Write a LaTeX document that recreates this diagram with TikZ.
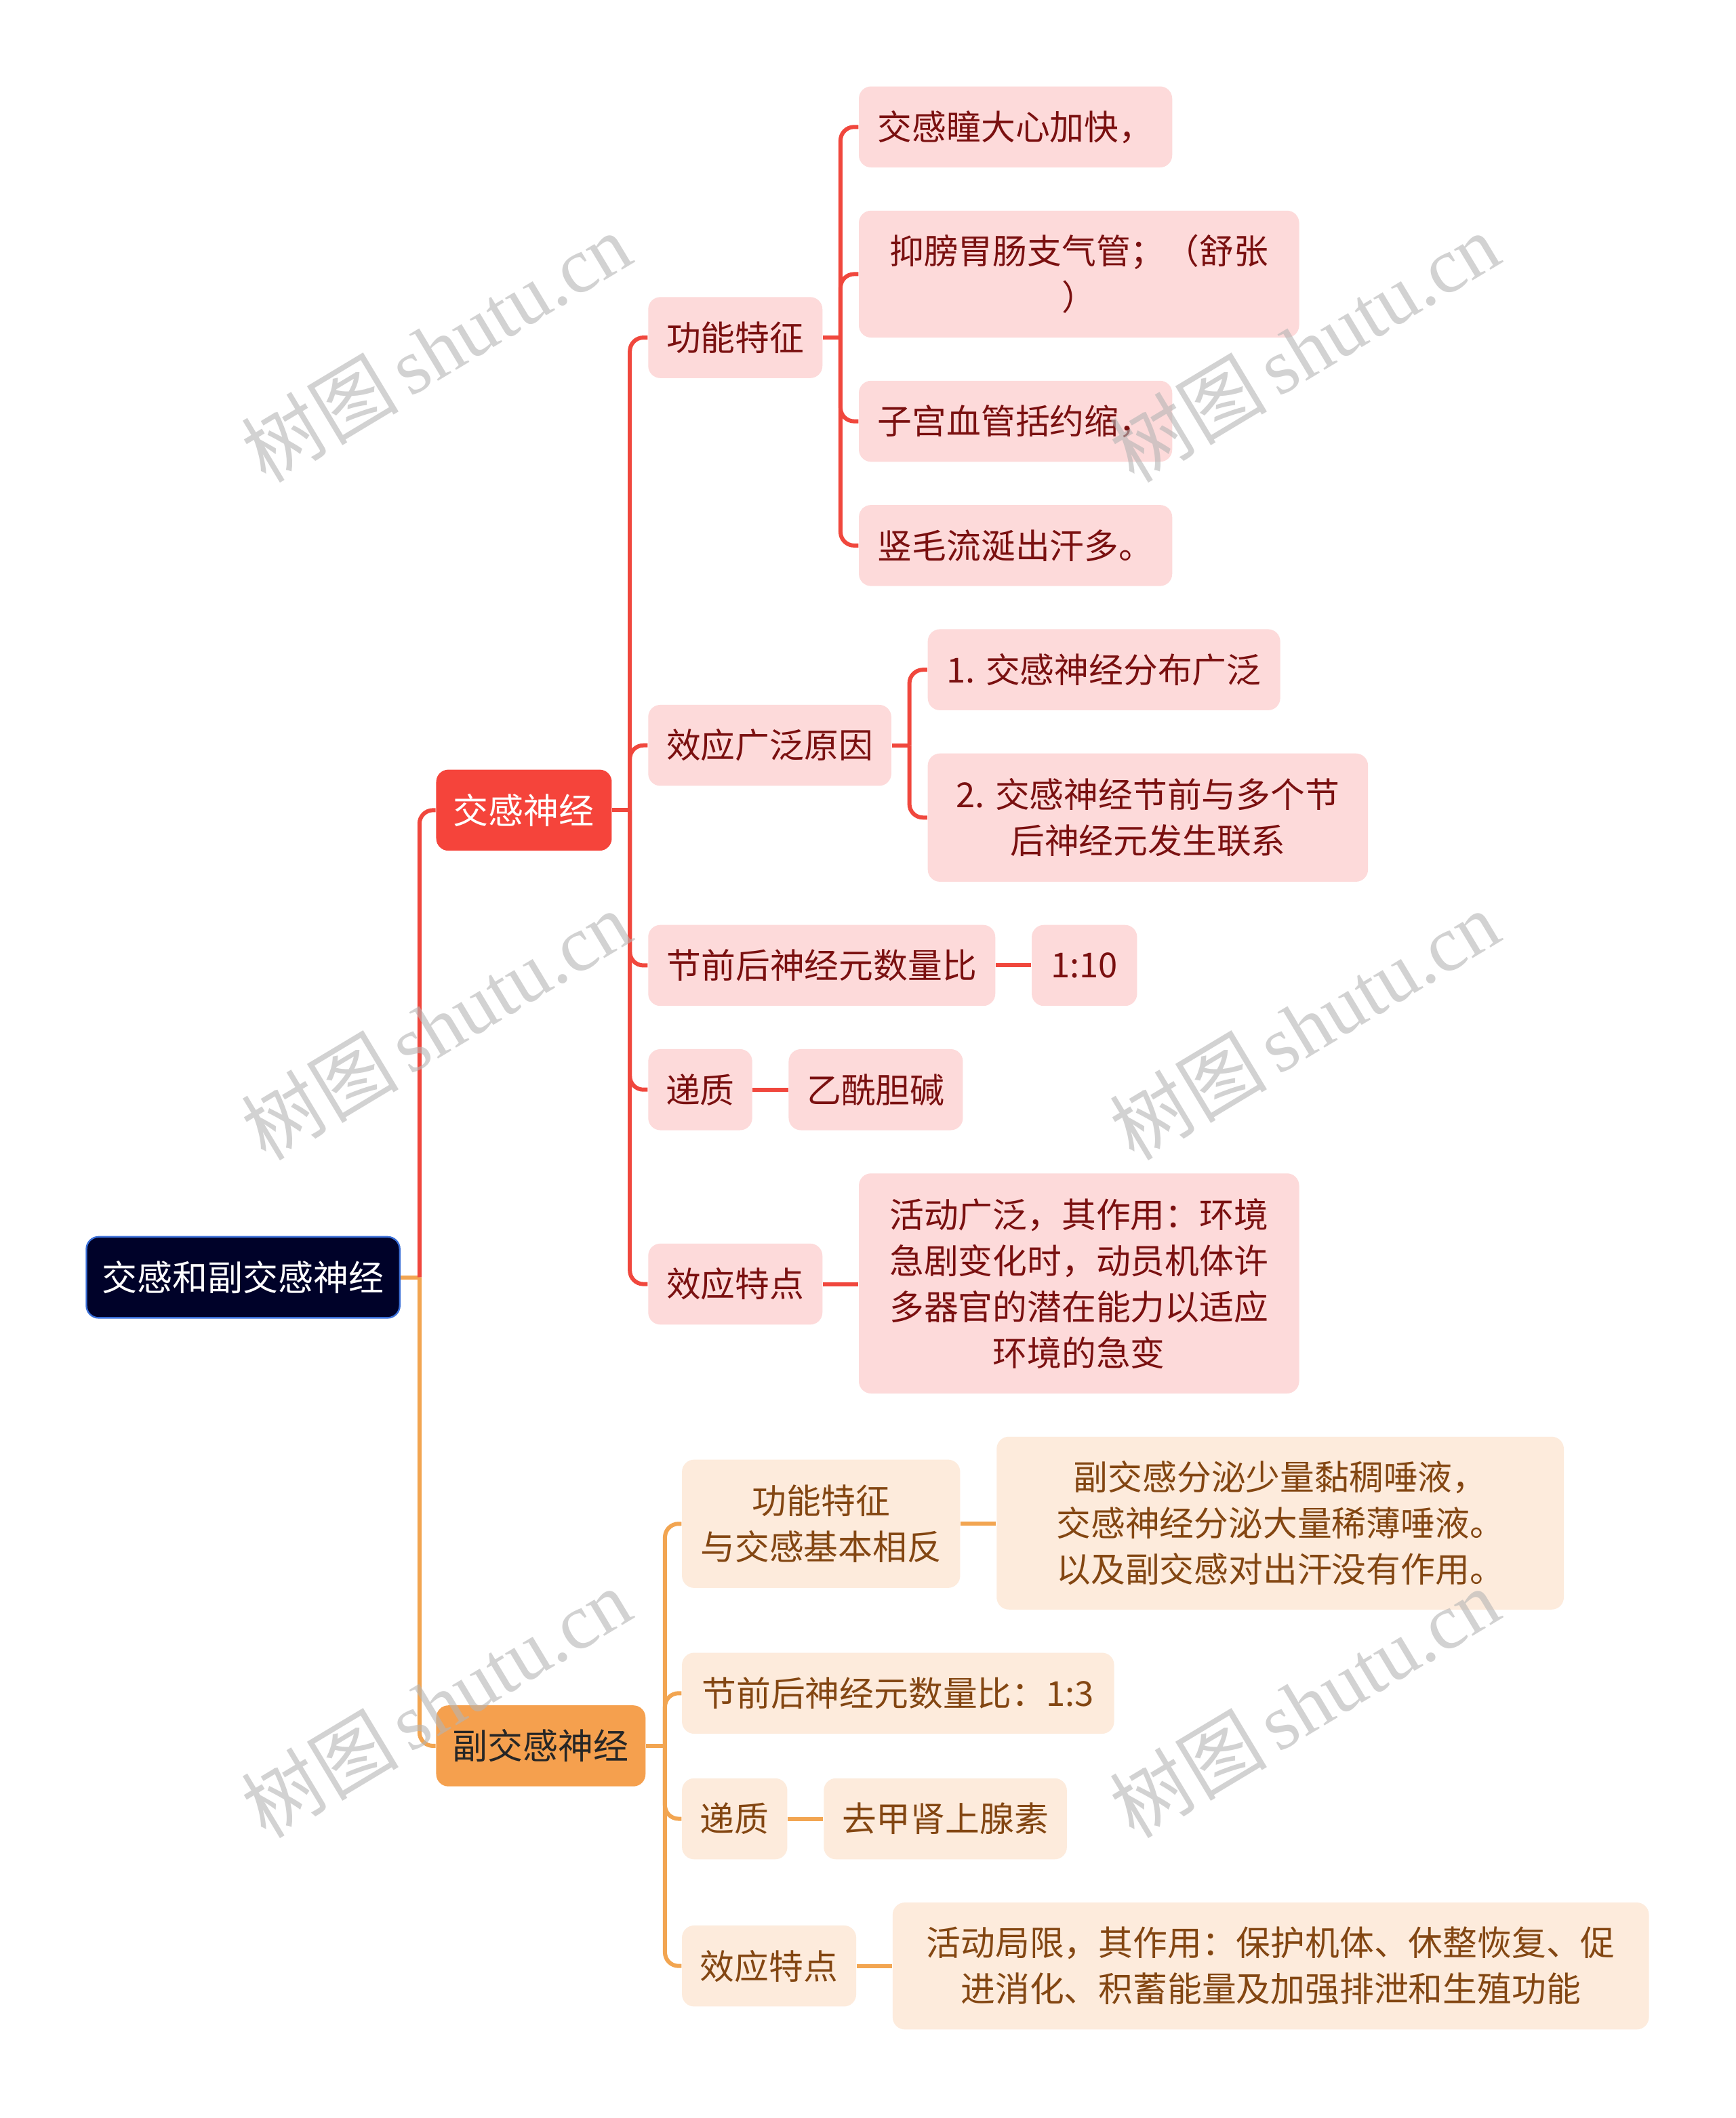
\documentclass[tikz,border=0pt]{standalone}
\usepackage{fontspec}
\newfontfamily\cjk{Noto Sans CJK SC}
\newfontfamily\wmlat{Liberation Serif}
\usetikzlibrary{calc}
\definecolor{rootfill}{HTML}{000229}
\definecolor{rootdraw}{HTML}{3A6FD8}
\definecolor{redmain}{HTML}{F5443B}
\definecolor{redline}{HTML}{F0473D}
\definecolor{pinkfill}{HTML}{FDDADA}
\definecolor{redtext}{HTML}{7A1010}
\definecolor{orgmain}{HTML}{F5A04E}
\definecolor{orgline}{HTML}{F2A551}
\definecolor{orgfill}{HTML}{FDEBDC}
\definecolor{orgtext}{HTML}{834612}
\definecolor{wmgray}{HTML}{B4B4B4}
\tikzset{
  wh/.style 2 args={minimum width={(#1)*0.49805pt},minimum height={(#2)*0.49805pt}},
  base/.style={rounded corners=4.5pt, inner sep=0pt, align=center,
    font=\cjk\fontsize{12.7pt}{17pt}\selectfont},
  rootbox/.style={base, fill=rootfill, draw=rootdraw, line width=0.6pt, text=white,
    font=\cjk\fontsize{13pt}{17pt}\selectfont},
  redbox/.style={base, fill=redmain, text=white, font=\cjk\fontsize{13pt}{17pt}\selectfont},
  orgbox/.style={base, fill=orgmain, text=black!85, font=\cjk\fontsize{13pt}{17pt}\selectfont},
  pinkbox/.style={base, fill=pinkfill, text=redtext},
  peachbox/.style={base, fill=orgfill, text=orgtext},
  rl/.style={draw=redline, line width=1.5pt},
  ol/.style={draw=orgline, line width=1.5pt},
  rc/.style={rounded corners=5pt},
  wm/.style={text=wmgray, opacity=0.6, rotate=31, font=\fontsize{29pt}{29pt}\selectfont}
}
\begin{document}
\begin{tikzpicture}[x=0.49805pt,y=-0.49805pt]
\useasboundingbox[fill=white] (0,0) rectangle (1285,1568.6);

% nodes
\node[rootbox, wh={232}{60}] (root) at (180,946) {交感和副交感神经};
\node[redbox, wh={130}{60}] (sym) at (388,600) {交感神经};
\node[orgbox, wh={155}{60}] (para) at (400.5,1293) {副交感神经};

\node[pinkbox, wh={129}{60}] (gn) at (544.5,250) {功能特征};
\node[pinkbox, wh={232}{60}] (g1) at (752,94) {交感瞳大心加快，};
\node[pinkbox, wh={326}{94}] (g2) at (799,203) {抑膀胃肠支气管；（舒张\\）};
\node[pinkbox, wh={232}{60}] (g3) at (752,312) {子宫血管括约缩，};
\node[pinkbox, wh={232}{60}] (g4) at (752,404) {竖毛流涎出汗多。};

\node[pinkbox, wh={180}{60}] (xy) at (570,552) {效应广泛原因};
\node[pinkbox, wh={261}{60}] (x1) at (817.5,496) {1. 交感神经分布广泛};
\node[pinkbox, wh={326}{95}] (x2) at (850,605.5) {2. 交感神经节前与多个节\\后神经元发生联系};

\node[pinkbox, wh={257}{60}] (jq) at (608.5,715) {节前后神经元数量比};
\node[pinkbox, wh={78}{60}] (jq1) at (803,715) {1:10};

\node[pinkbox, wh={77}{60}] (dz) at (518.5,807) {递质};
\node[pinkbox, wh={129}{60}] (dz1) at (648.5,807) {乙酰胆碱};

\node[pinkbox, wh={129}{60}] (xt) at (544.5,951) {效应特点};
\node[pinkbox, wh={326}{163}] (xt1) at (799,950.5) {活动广泛，其作用：环境\\急剧变化时，动员机体许\\多器官的潜在能力以适应\\环境的急变};

\node[peachbox, wh={206}{95}] (fg) at (608,1128.5) {功能特征\\与交感基本相反};
\node[peachbox, wh={420}{128}] (fg1) at (948,1128) {副交感分泌少量黏稠唾液，\\交感神经分泌大量稀薄唾液。\\以及副交感对出汗没有作用。};
\node[peachbox, wh={320}{60}] (fj) at (665,1254) {节前后神经元数量比：1:3};
\node[peachbox, wh={78}{60}] (fd) at (544,1347) {递质};
\node[peachbox, wh={180}{60}] (fd1) at (700,1347) {去甲肾上腺素};
\node[peachbox, wh={129}{60}] (fx) at (569.5,1456) {效应特点};
\node[peachbox, wh={560}{94}] (fx1) at (941,1456) {活动局限，其作用：保护机体、休整恢复、促\\进消化、积蓄能量及加强排泄和生殖功能};

% root connectors
\coordinate (rj) at ($(root.east)+(14,0)$);
\draw[ol] (root.east) -- (rj);
\draw[rl, rc] (rj) |- (sym.west);
\draw[ol, rc] (rj) |- (para.west);

% sympathetic
\coordinate (sj) at ($(sym.east)+(13,0)$);
\draw[rl] (sym.east) -- (sj);
\foreach \c in {gn,xy,jq,dz,xt} \draw[rl, rc] (sj) |- (\c.west);

\coordinate (gj) at ($(gn.east)+(13,0)$);
\draw[rl] (gn.east) -- (gj);
\foreach \c in {g1,g2,g3,g4} \draw[rl, rc] (gj) |- (\c.west);

\coordinate (xj) at ($(xy.east)+(13,0)$);
\draw[rl] (xy.east) -- (xj);
\foreach \c in {x1,x2} \draw[rl, rc] (xj) |- (\c.west);

\draw[rl] (jq.east) -- (jq1.west);
\draw[rl] (dz.east) -- (dz1.west);
\draw[rl] (xt.east) -- (xt.east -| xt1.west);

% parasympathetic
\coordinate (pj) at ($(para.east)+(14,0)$);
\draw[ol] (para.east) -- (pj);
\foreach \c in {fg,fj,fd,fx} \draw[ol, rc] (pj) |- (\c.west);
\draw[ol] (fg.east) -- (fg.east -| fg1.west);
\draw[ol] (fd.east) -- (fd1.west);
\draw[ol] (fx.east) -- (fx1.west);

% watermarks
\foreach \wx/\wy/\n in {323/257/a,966/257/b,323/759/c,966/759/d,323/1261/e,966/1261/f}
  \node[wm] (wm\n) at (\wx,\wy) {{\cjk 树图}\hspace{4pt}{\wmlat shutu.cn}};
\end{tikzpicture}
\end{document}
